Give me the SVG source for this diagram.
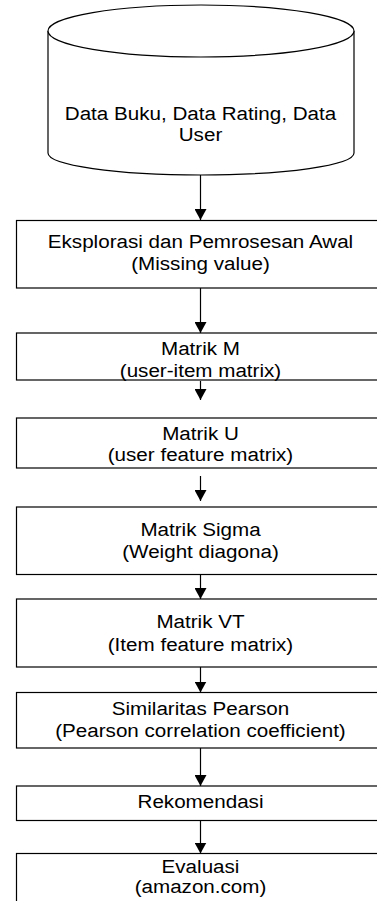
<svg xmlns="http://www.w3.org/2000/svg" width="377" height="901" viewBox="0 0 377 901">
<style>
.shape{fill:#fff;stroke:#000;stroke-width:1.2}
.conn{stroke:#000;stroke-width:1.2;fill:none}
text{font-family:"Liberation Sans",Arial,sans-serif;font-size:19px;fill:#000;text-anchor:middle}
</style>
<defs>
<marker id="arr" viewBox="0 0 11 12" refX="11" refY="6" markerWidth="11" markerHeight="12" markerUnits="userSpaceOnUse" orient="auto">
<path d="M0,0 L11,6 L0,12 Z" fill="#000"/>
</marker>
</defs>
<rect width="377" height="901" fill="#fff"/>
<g id="n0">
<path class="shape" d="M48,31 V153 A153,22 0 0 0 354,153 V31"/>
<ellipse class="shape" cx="201" cy="31" rx="153" ry="26"/>
<g transform="matrix(1.085 0 0 1 -17.04 0)"><text x="200.5" y="120">Data Buku, Data Rating, Data</text><text x="200.5" y="141">User</text></g>
</g>
<g id="n1"><rect class="shape" x="16.5" y="220.5" width="380" height="67.5"/>
<g transform="matrix(1.085 0 0 1 -17.04 0)"><text x="200.5" y="248.5">Eksplorasi dan Pemrosesan Awal</text><text x="200.5" y="270.5">(Missing value)</text></g></g>
<g id="n2"><rect class="shape" x="16.5" y="333" width="380" height="47"/>
<g transform="matrix(1.085 0 0 1 -17.04 0)"><text x="200.5" y="355.5">Matrik M</text><text x="200.5" y="377.5">(user-item matrix)</text></g></g>
<g id="n3"><rect class="shape" x="16.5" y="418" width="380" height="50"/>
<g transform="matrix(1.085 0 0 1 -17.04 0)"><text x="200.5" y="440.5">Matrik U</text><text x="200.5" y="461.5">(user feature matrix)</text></g></g>
<g id="n4"><rect class="shape" x="16.5" y="507" width="380" height="67.5"/>
<g transform="matrix(1.085 0 0 1 -17.04 0)"><text x="200.5" y="536">Matrik Sigma</text><text x="200.5" y="558">(Weight diagona)</text></g></g>
<g id="n5"><rect class="shape" x="16.5" y="599" width="380" height="68"/>
<g transform="matrix(1.085 0 0 1 -17.04 0)"><text x="200.5" y="628">Matrik VT</text><text x="200.5" y="651">(Item feature matrix)</text></g></g>
<g id="n6"><rect class="shape" x="16.5" y="692.5" width="380" height="55.5"/>
<g transform="matrix(1.085 0 0 1 -17.04 0)"><text x="200.5" y="715">Similaritas Pearson</text><text x="200.5" y="737">(Pearson correlation coefficient)</text></g></g>
<g id="n7"><rect class="shape" x="16.5" y="786" width="380" height="34.5"/>
<g transform="matrix(1.085 0 0 1 -17.04 0)"><text x="200.5" y="808.5">Rekomendasi</text></g></g>
<g id="n8"><rect class="shape" x="16.5" y="853.5" width="380" height="60"/>
<g transform="matrix(1.085 0 0 1 -17.04 0)"><text x="200.5" y="873">Evaluasi</text><text x="200.5" y="893.5">(amazon.com)</text></g></g>
<g id="connectors">
<line class="conn" x1="200.5" y1="175" x2="200.5" y2="220" marker-end="url(#arr)"/>
<line class="conn" x1="200.5" y1="288" x2="200.5" y2="333" marker-end="url(#arr)"/>
<line class="conn" x1="200.5" y1="381" x2="200.5" y2="400" marker-end="url(#arr)"/>
<line class="conn" x1="200.5" y1="476" x2="200.5" y2="501" marker-end="url(#arr)"/>
<line class="conn" x1="200.5" y1="574.5" x2="200.5" y2="599" marker-end="url(#arr)"/>
<line class="conn" x1="200.5" y1="667" x2="200.5" y2="692.5" marker-end="url(#arr)"/>
<line class="conn" x1="200.5" y1="748" x2="200.5" y2="786" marker-end="url(#arr)"/>
<line class="conn" x1="200.5" y1="820.5" x2="200.5" y2="853.5" marker-end="url(#arr)"/>
</g>
</svg>
